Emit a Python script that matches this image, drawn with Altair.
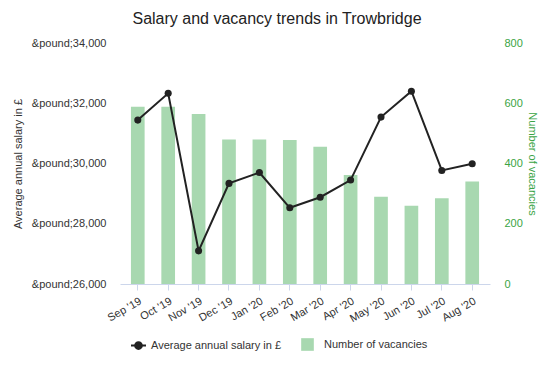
import altair as alt
import pandas as pd

months = ["Sep '19", "Oct '19", "Nov '19", "Dec '19", "Jan '20", "Feb '20",
          "Mar '20", "Apr '20", "May '20", "Jun '20", "Jul '20", "Aug '20"]
salary = [31440, 32330, 27100, 29340, 29700, 28530, 28880, 29450, 31540, 32400, 29770, 29990]
vacancies = [588, 588, 564, 480, 480, 478, 456, 362, 290, 260, 285, 340]

salary_name = "Average annual salary in £"
vac_name = "Number of vacancies"

df = pd.DataFrame({
    "month": months,
    "salary": salary,
    "vacancies": vacancies,
    "s_series": [salary_name] * len(months),
    "v_series": [vac_name] * len(months),
})

FONT = "Liberation Sans"
GREEN_BAR = "#a8d8b0"
GREEN_TXT = "#3aa445"

xenc = alt.X("month:N", sort=months, title=None,
             scale=alt.Scale(paddingInner=0.55, paddingOuter=0.36),
             axis=alt.Axis(labelAngle=-30, labelFontSize=11, labelColor="#333333",
                           tickColor="#ccd6eb", domainColor="#ccd6eb", tickSize=6,
                           grid=False, labelPadding=5))

bars = alt.Chart(df).mark_bar(color=GREEN_BAR).encode(
    x=xenc,
    y=alt.Y("vacancies:Q", title=vac_name,
            scale=alt.Scale(domain=[0, 800], nice=False),
            axis=alt.Axis(orient="right", values=[0, 200, 400, 600, 800], grid=False,
                          domain=False, ticks=False, labelPadding=14,
                          labelColor=GREEN_TXT, labelFontSize=11,
                          titleColor=GREEN_TXT, titleFontSize=11, titleFontWeight="normal",
                          titlePadding=4)),
    color=alt.Color("v_series:N", scale=alt.Scale(domain=[vac_name], range=[GREEN_BAR]),
                    legend=alt.Legend(title=None, orient="none", legendX=180, legendY=294,
                                      symbolType="square", symbolSize=160,
                                      labelFontSize=11, labelColor="#333333", padding=0,
                                      labelOffset=9)),
)

line = alt.Chart(df).mark_line(color="#222222", strokeWidth=2,
                               point=alt.OverlayMarkDef(size=50, filled=True, color="#222222")).encode(
    x=xenc,
    y=alt.Y("salary:Q", title=salary_name,
            scale=alt.Scale(domain=[26000, 34000], nice=False),
            axis=alt.Axis(orient="left", values=[26000, 28000, 30000, 32000, 34000],
                          labelExpr="'&pound;' + format(datum.value, ',')",
                          gridColor="#e6e6e6", domain=False, ticks=False, labelPadding=14,
                          labelColor="#333333", labelFontSize=11,
                          titleColor="#333333", titleFontSize=11, titleFontWeight="normal",
                          titlePadding=8)),
    color=alt.Color("s_series:N", scale=alt.Scale(domain=[salary_name], range=["#222222"]),
                    legend=alt.Legend(title=None, orient="none", legendX=10, legendY=294,
                                      symbolType="M-1,0H1M-0.45,0A0.45,0.45,0,1,1,0.45,0A0.45,0.45,0,1,1,-0.45,0Z",
                                      symbolSize=225, symbolStrokeWidth=2,
                                      symbolFillColor="#222222", symbolStrokeColor="#222222",
                                      labelFontSize=11, labelColor="#333333", padding=0,
                                      labelOffset=4)),
)

chart = alt.layer(bars, line).resolve_scale(y="independent", color="independent").properties(
    width=370, height=241,
    title=alt.TitleParams("Salary and vacancy trends in Trowbridge", fontSize=16,
                          fontWeight="normal", color="#222222", font=FONT,
                          anchor="middle", dx=-28, offset=10),
    autosize=alt.AutoSizeParams(type="none"),
    padding={"left": 112, "top": 35, "right": 56, "bottom": 78},
).configure(font=FONT).configure_view(stroke=None).configure_axis(labelFont=FONT, titleFont=FONT)

chart.save("out.html", embed_options={"renderer": "svg", "actions": False})
